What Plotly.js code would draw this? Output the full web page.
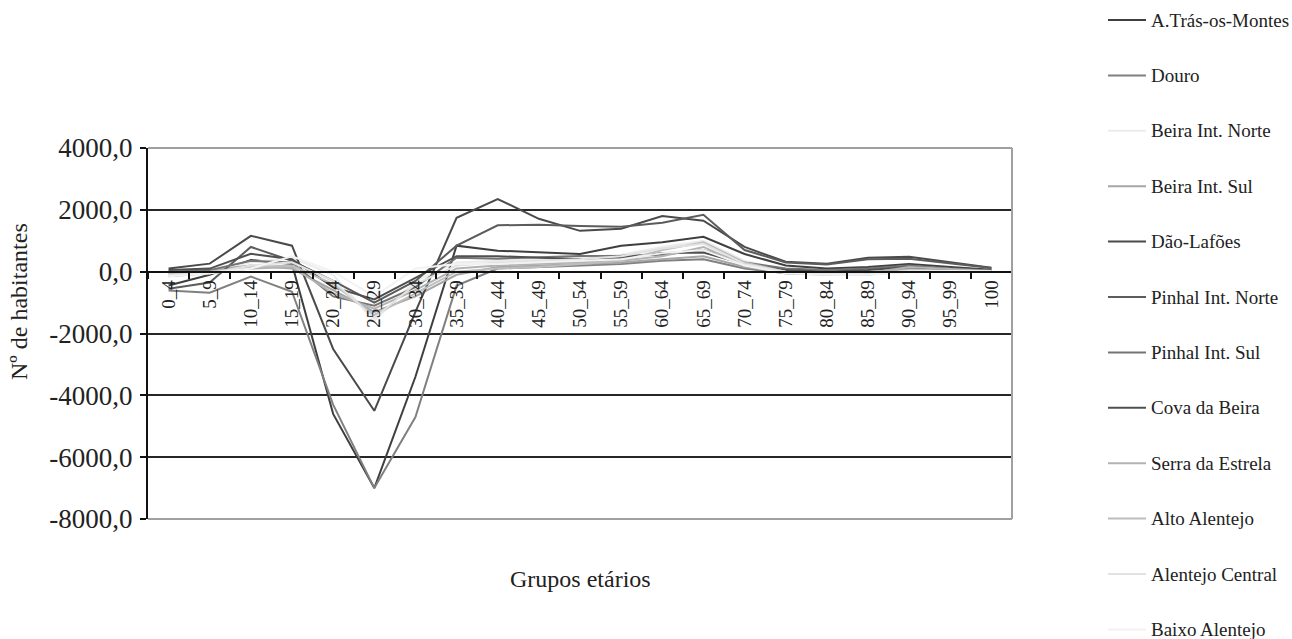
<!DOCTYPE html>
<html>
<head>
<meta charset="utf-8">
<script src="https://cdn.plot.ly/plotly-3.0.1.min.js"></script>
<style>html,body{margin:0;padding:0;background:#fff}#chart{width:1292px;height:639px}</style>
</head>
<body>
<div id="chart"></div>
<script>
const categories = ["0_4","5_9","10_14","15_19","20_24","25_29","30_34","35_39","40_44","45_49","50_54","55_59","60_64","65_69","70_74","75_79","80_84","85_89","90_94","95_99","100"];

const seriesNames = ["A.Trás-os-Montes","Douro","Beira Int. Norte","Beira Int. Sul","Dão-Lafões","Pinhal Int. Norte","Pinhal Int. Sul","Cova da Beira","Serra da Estrela","Alto Alentejo","Alentejo Central","Baixo Alentejo"];

const yTickValues = [4000, 2000, 0, -2000, -4000, -6000, -8000];
const yTickLabels = ["4000,0", "2000,0", "0,0", "-2000,0", "-4000,0", "-6000,0", "-8000,0"];

const aTrasOsMontes   = [-450, -100, 380, 250, -4600, -7000, -3400, 840, 680, 620, 570, 840, 950, 1130, 570, 200, 100, 150, 250, 150, 60];
const douro           = [-610, -680, -160, -650, -4300, -7000, -4700, -450, 100, 150, 200, 250, 350, 400, 100, -50, -80, -50, 50, 30, 20];
const beiraIntNorte   = [-100, 0, 300, 450, -100, -1600, -300, 300, 350, 400, 450, 550, 800, 1000, 350, 50, -50, -100, 0, 50, 20];
const beiraIntSul     = [-50, 50, 200, 100, -600, -1300, -800, -100, 150, 200, 250, 300, 400, 500, 150, 0, -50, -30, 100, 50, 20];
const daoLafoes       = [100, 260, 1160, 840, -2500, -4500, -1300, 1740, 2350, 1710, 1320, 1390, 1800, 1650, 800, 320, 260, 450, 480, 300, 130];
const pinhalIntNorte  = [-550, -350, 800, 350, -300, -1000, -300, 840, 1500, 1520, 1480, 1450, 1580, 1840, 700, 300, 230, 400, 420, 280, 120];
const pinhalIntSul    = [0, 50, 350, 300, -800, -1100, -500, 450, 420, 460, 510, 515, 550, 700, 300, 100, 50, 100, 200, 100, 40];
const covaDaBeira     = [50, 100, 580, 400, -500, -900, -200, 500, 500, 450, 400, 450, 600, 620, 250, 50, 0, 50, 150, 80, 30];
const serraDaEstrela  = [-150, -50, 100, 150, -700, -1200, -600, 100, 200, 250, 300, 350, 500, 800, 200, -50, -100, -50, 150, 80, 20];
const altoAlentejo    = [-50, 0, 150, 200, -400, -1400, -700, 0, 100, 150, 250, 350, 700, 950, 300, 0, -80, -100, 50, 30, 10];
const alentejoCentral = [-100, -50, 200, 300, -300, -1500, -400, 200, 300, 350, 400, 500, 750, 900, 250, 0, -50, -80, 30, 30, 10];
const baixoAlentejo   = [-150, -50, 100, 500, 0, -800, 100, 250, 250, 300, 350, 400, 600, 700, 200, -50, -100, -100, 0, 20, 10];

const seriesValues = [aTrasOsMontes, douro, beiraIntNorte, beiraIntSul, daoLafoes, pinhalIntNorte, pinhalIntSul, covaDaBeira, serraDaEstrela, altoAlentejo, alentejoCentral, baixoAlentejo];
const seriesColors = ["#3f3f3f","#808080","#ececec","#a6a6a6","#4a4a4a","#5c5c5c","#747474","#505050","#b3b3b3","#bdbdbd","#e2e2e2","#f2f2f2"];

const traces = seriesNames.map((name, i) => ({
  type: "scatter",
  mode: "lines",
  name: name,
  x: categories,
  y: seriesValues[i],
  line: {color: seriesColors[i], width: 2},
  showlegend: false
}));

const serif = "Liberation Serif, Times New Roman, serif";

// plot box in pixels (for placing the hand-built legend and titles outside the plot)
const M = {l: 148, r: 280, t: 148, b: 120};
const W = 1292, H = 639;
const plotW = W - M.l - M.r, plotH = H - M.t - M.b;
const px2x = p => (p - M.l) / plotW;
const px2y = p => (H - M.b - p) / plotH;

const shapes = [
  {type: "line", xref: "paper", yref: "paper", x0: 0, x1: 1, y0: 1, y1: 1, line: {color: "#a0a0a0", width: 2}, layer: "above"},
  {type: "line", xref: "paper", yref: "paper", x0: 1, x1: 1, y0: 0, y1: 1, line: {color: "#a0a0a0", width: 2}, layer: "above"},
  {type: "line", xref: "paper", yref: "paper", x0: 0, x1: 1, y0: 0, y1: 0, line: {color: "#a0a0a0", width: 2}, layer: "above"}
];
const annotations = [
  {text: "Grupos etários", xref: "paper", yref: "paper", x: 0.5, y: px2y(579), xanchor: "center", yanchor: "middle", showarrow: false, font: {family: serif, size: 24, color: "#222222"}},
  {text: "Nº de habitantes", xref: "paper", yref: "paper", x: px2x(19), y: px2y(302), xanchor: "center", yanchor: "middle", textangle: -90, showarrow: false, font: {family: serif, size: 24, color: "#222222"}}
];

seriesNames.forEach((name, i) => {
  const cy = 20 + i * 55.4;
  shapes.push({type: "line", xref: "paper", yref: "paper", x0: px2x(1108), x1: px2x(1146), y0: px2y(cy), y1: px2y(cy), line: {color: seriesColors[i], width: 2}});
  annotations.push({text: name, xref: "paper", yref: "paper", x: px2x(1149), y: px2y(cy), xanchor: "left", yanchor: "middle", showarrow: false, font: {family: serif, size: 19, color: "#222222"}});
});

const layout = {
  width: W,
  height: H,
  paper_bgcolor: "#ffffff",
  plot_bgcolor: "#ffffff",
  margin: {l: M.l, r: M.r, t: M.t, b: M.b, autoexpand: false},
  font: {family: serif, color: "#222222"},
  showlegend: false,
  xaxis: {
    type: "category",
    range: [-0.5, 20.5],
    anchor: "free",
    position: 8/12,
    tickson: "boundaries",
    ticks: "outside",
    ticklen: 6,
    tickwidth: 2,
    tickcolor: "#111111",
    showline: true,
    linecolor: "#111111",
    linewidth: 2,
    showgrid: false,
    zeroline: false,
    tickangle: -90,
    tickfont: {family: serif, size: 19, color: "#222222"}
  },
  yaxis: {
    range: [-8000, 4000],
    tickmode: "array",
    tickvals: yTickValues,
    ticktext: yTickLabels,
    ticks: "outside",
    ticklen: 6,
    tickwidth: 2,
    tickcolor: "#111111",
    ticklabelstandoff: 2,
    showline: true,
    linecolor: "#111111",
    linewidth: 2,
    showgrid: true,
    gridcolor: "#262626",
    gridwidth: 2,
    zeroline: false,
    tickfont: {family: serif, size: 27, color: "#222222"}
  },
  shapes: shapes,
  annotations: annotations
};

Plotly.newPlot("chart", traces, layout, {displayModeBar: false, staticPlot: true});
</script>
</body>
</html>
